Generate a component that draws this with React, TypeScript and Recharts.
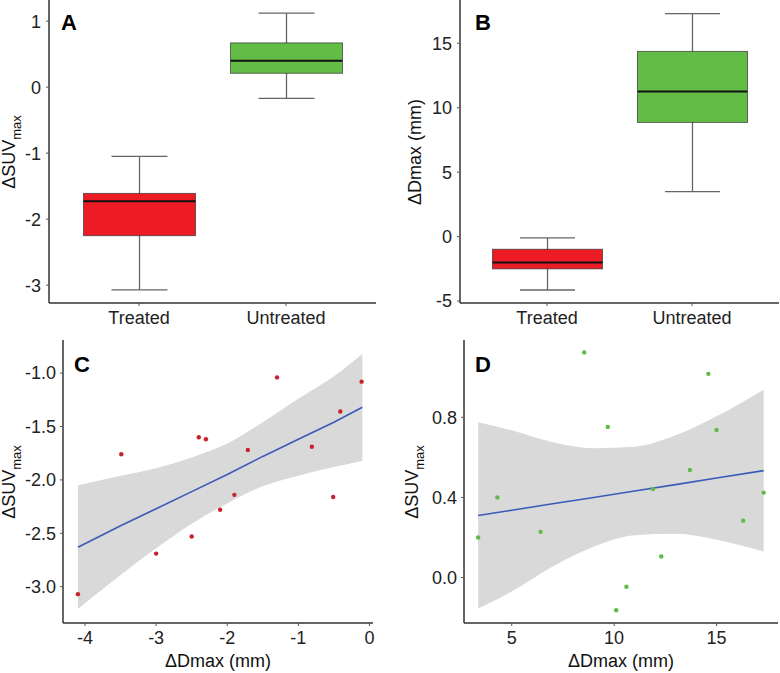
import {
  Area,
  Bar,
  ComposedChart,
  Line,
  Scatter,
  XAxis,
  YAxis,
} from "recharts";

const GROUPS = ["Treated", "Untreated"];

// panel A: ΔSUVmax box stats
const A_MIN = [-3.07, -0.17];
const A_Q1 = [-2.25, 0.21];
const A_MED = [-1.73, 0.4];
const A_Q3 = [-1.61, 0.67];
const A_MAX = [-1.05, 1.12];
const A_TICKS = [-3, -2, -1, 0, 1];

// panel B: ΔDmax box stats
const B_MIN = [-4.14, 3.49];
const B_Q1 = [-2.5, 8.86];
const B_MED = [-2.0, 11.27];
const B_Q3 = [-0.98, 14.37];
const B_MAX = [-0.1, 17.3];
const B_TICKS = [-5, 0, 5, 10, 15];

// panel C: treated scatter + fit
const C_X = [-4.1, -3.49, -3.0, -2.5, -2.4, -2.3, -2.1, -1.9, -1.71, -1.3, -0.81, -0.51, -0.41, -0.11];
const C_Y = [-3.07, -1.76, -2.69, -2.53, -1.6, -1.62, -2.28, -2.14, -1.72, -1.04, -1.69, -2.16, -1.36, -1.08];
const C_FIT_X = [-4.1, -3.5, -3.0, -2.5, -2.0, -1.5, -1.0, -0.5, -0.1];
const C_FIT = [-2.63, -2.43, -2.27, -2.11, -1.95, -1.78, -1.62, -1.46, -1.32];
const C_LO = [-3.21, -2.89, -2.64, -2.41, -2.22, -2.06, -1.96, -1.88, -1.82];
const C_HI = [-2.05, -1.96, -1.89, -1.79, -1.66, -1.46, -1.24, -1.03, -0.82];
const C_XTICKS = [-4, -3, -2, -1, 0];
const C_YTICKS = [-3, -2.5, -2, -1.5, -1];

// panel D: untreated scatter + fit
const D_X = [3.36, 4.3, 6.41, 8.54, 9.69, 10.1, 10.6, 11.9, 12.3, 13.7, 14.6, 15.0, 16.3, 17.3];
const D_Y = [0.2, 0.4, 0.228, 1.124, 0.752, -0.163, -0.046, 0.442, 0.105, 0.537, 1.017, 0.737, 0.284, 0.424];
const D_FIT_X = [3.36, 5, 7, 9, 11, 13, 15, 17.3];
const D_FIT = [0.31, 0.336, 0.368, 0.4, 0.432, 0.464, 0.497, 0.534];
const D_LO = [-0.155, -0.07, 0.055, 0.154, 0.211, 0.218, 0.189, 0.13];
const D_HI = [0.775, 0.735, 0.676, 0.646, 0.653, 0.71, 0.805, 0.938];
const D_XTICKS = [5, 10, 15];
const D_YTICKS = [0, 0.4, 0.8];

const FILLS = ["#ED1C24", "#63BC46"];
const FONT = "'Liberation Sans', Arial, sans-serif";
const AXIS = { stroke: "#333", strokeWidth: 1.5 };
const TICKLINE = { stroke: "#555" };
const TICK = { fill: "#222", fontSize: 18 };

const boxRows = (mn: number[], q1: number[], md: number[], q3: number[], mx: number[]) =>
  GROUPS.map((g, i) => ({ group: g, min: mn[i], q1: q1[i], med: md[i], q3: q3[i], max: mx[i], fill: FILLS[i] }));

const fitRows = (xs: number[], fit: number[], lo: number[], hi: number[]) =>
  xs.map((x, i) => ({ x, fit: fit[i], band: [lo[i], hi[i]] }));

const pts = (xs: number[], ys: number[]) => xs.map((x, i) => ({ x, y: ys[i] }));

function BoxShape(props: any) {
  const { x, y, width, height, payload } = props;
  const top = Math.min(y, y + height);
  const bot = Math.max(y, y + height);
  const { min, max, q1, q3, med, fill } = payload;
  const py = (v: number) => bot - ((v - min) / (max - min)) * (bot - top);
  const cx = x + width / 2;
  const cap = width / 4;
  return (
    <g>
      <line x1={cx} x2={cx} y1={py(max)} y2={py(min)} stroke="#666" strokeWidth={1.3} />
      <line x1={cx - cap} x2={cx + cap} y1={py(max)} y2={py(max)} stroke="#666" strokeWidth={1.3} />
      <line x1={cx - cap} x2={cx + cap} y1={py(min)} y2={py(min)} stroke="#666" strokeWidth={1.3} />
      <rect x={x} y={py(q3)} width={width} height={py(q1) - py(q3)} fill={fill} stroke="#333" strokeOpacity={0.7} strokeWidth={1} />
      <line x1={x} x2={x + width} y1={py(med)} y2={py(med)} stroke="#111" strokeWidth={2} />
    </g>
  );
}

function BoxPanel({ data, domain, ticks, yWidth, right, pad, barSize }: any) {
  return (
    <ComposedChart width={390} height={340} data={data} margin={{ top: 0, right, bottom: 0, left: 0 }}>
      <XAxis dataKey="group" type="category" padding={{ left: pad, right: pad }} height={37}
        axisLine={AXIS} tickLine={TICKLINE} tickSize={3} tickMargin={5} tick={TICK} />
      <YAxis type="number" domain={domain} ticks={ticks} allowDataOverflow width={yWidth}
        axisLine={AXIS} tickLine={TICKLINE} tickSize={3} tickMargin={5} tick={TICK} />
      <Bar dataKey={(d: any) => [d.min, d.max]} barSize={barSize} shape={<BoxShape />} isAnimationActive={false} />
    </ComposedChart>
  );
}

function FitPanel({ rows, points, xDomain, yDomain, xTicks, yTicks, yWidth, right, color }: any) {
  return (
    <ComposedChart width={390} height={343} data={rows} margin={{ top: 10, right, bottom: 0, left: 0 }}>
      <XAxis dataKey="x" type="number" domain={xDomain} ticks={xTicks} allowDataOverflow height={50}
        axisLine={AXIS} tickLine={TICKLINE} tickSize={3} tickMargin={5} tick={TICK} />
      <YAxis type="number" domain={yDomain} ticks={yTicks} allowDataOverflow width={yWidth}
        tickFormatter={(v: number) => v.toFixed(1)}
        axisLine={AXIS} tickLine={TICKLINE} tickSize={3} tickMargin={4} tick={TICK} />
      <Area dataKey="band" type="monotone" fill="#D9D9D9" fillOpacity={1} stroke="none" isAnimationActive={false} />
      <Line dataKey="fit" type="linear" stroke="#3A5BB8" strokeWidth={1.6} dot={false} isAnimationActive={false} />
      <Scatter data={points} dataKey="y" isAnimationActive={false}
        shape={(p: any) => <circle cx={p.cx} cy={p.cy} r={2.2} fill={color} />} />
    </ComposedChart>
  );
}

function YTitle({ x, y, sub, text }: { x: number; y: number; sub?: string; text: string }) {
  return (
    <text x={x} y={y} transform={`rotate(-90, ${x}, ${y})`} textAnchor="middle" fontSize={18} fill="#111">
      {text}
      {sub && <tspan dy={6} fontSize={13}>{sub}</tspan>}
    </text>
  );
}

export default function App() {
  return (
    <div style={{ position: "absolute", left: 0, top: 0, width: 780, height: 673, background: "#fff", fontFamily: FONT }}>
      <div style={{ position: "absolute", left: 0, top: 0 }}>
        <BoxPanel data={boxRows(A_MIN, A_Q1, A_MED, A_Q3, A_MAX)} domain={[-3.27, 1.32]} ticks={A_TICKS}
          yWidth={49} right={14} pad={16.5} barSize={112} />
      </div>
      <div style={{ position: "absolute", left: 390, top: 0 }}>
        <BoxPanel data={boxRows(B_MIN, B_Q1, B_MED, B_Q3, B_MAX)} domain={[-5.15, 18.36]} ticks={B_TICKS}
          yWidth={70} right={1} pad={14.5} barSize={110} />
      </div>
      <div style={{ position: "absolute", left: 0, top: 330 }}>
        <FitPanel rows={fitRows(C_FIT_X, C_FIT, C_LO, C_HI)} points={pts(C_X, C_Y)} xDomain={[-4.31, 0.05]}
          yDomain={[-3.34, -0.69]} xTicks={C_XTICKS} yTicks={C_YTICKS} yWidth={63} right={17} color="#C8232B" />
      </div>
      <div style={{ position: "absolute", left: 390, top: 330 }}>
        <FitPanel rows={fitRows(D_FIT_X, D_FIT, D_LO, D_HI)} points={pts(D_X, D_Y)} xDomain={[2.67, 18.0]}
          yDomain={[-0.227, 1.186]} xTicks={D_XTICKS} yTicks={D_YTICKS} yWidth={74} right={2} color="#5DBB47" />
      </div>
      <svg width={780} height={673} style={{ position: "absolute", left: 0, top: 0, pointerEvents: "none" }} fontFamily={FONT}>
        <g fontSize={22} fontWeight="bold" fill="#000">
          <text x={61} y={29.5}>A</text>
          <text x={475} y={29.5}>B</text>
          <text x={74} y={371.5}>C</text>
          <text x={475} y={371.5}>D</text>
        </g>
        <YTitle x={15} y={152} text="ΔSUV" sub="max" />
        <YTitle x={421} y={152} text="ΔDmax (mm)" />
        <YTitle x={15} y={482} text="ΔSUV" sub="max" />
        <YTitle x={418} y={482} text="ΔSUV" sub="max" />
        <text x={218} y={667} textAnchor="middle" fontSize={18} fill="#111">ΔDmax (mm)</text>
        <text x={621} y={667} textAnchor="middle" fontSize={18} fill="#111">ΔDmax (mm)</text>
      </svg>
    </div>
  );
}
